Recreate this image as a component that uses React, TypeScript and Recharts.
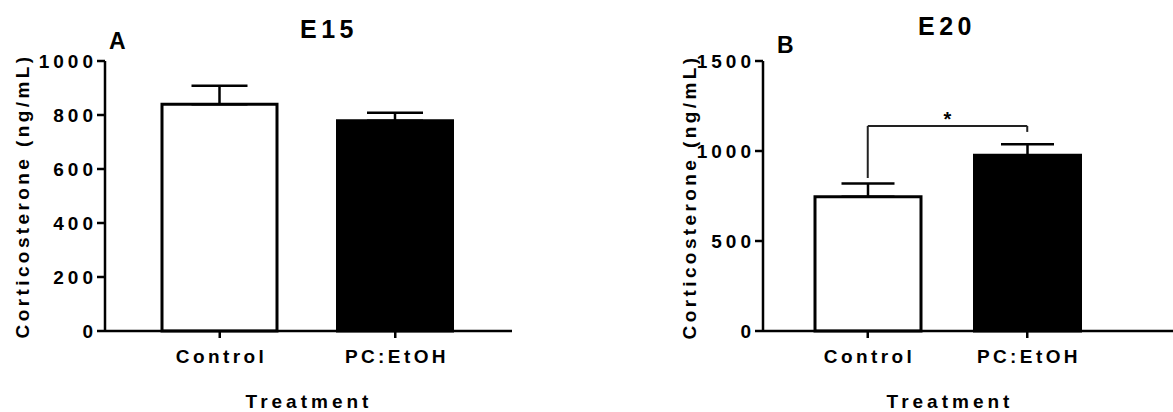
import React from 'react';
import { BarChart, Bar, XAxis, YAxis, ErrorBar, Cell, ReferenceLine } from 'recharts';

const categories = ['Control', 'PC:EtOH'];
const e15Means = [840, 779];
const e15Errors = [68, 29];
const e20Means = [746, 976];
const e20Errors = [73, 61];
const e15Ticks = [0, 200, 400, 600, 800, 1000];
const e20Ticks = [0, 500, 1000, 1500];
const barFills = ['#ffffff', '#000000'];
const bracketY = 1139;
const bracketLeftBottom = 850;
const bracketRightBottom = 1106;

const e15Data = categories.map((c, i) => ({ name: c, value: e15Means[i], err: [0, e15Errors[i]] }));
const e20Data = categories.map((c, i) => ({ name: c, value: e20Means[i], err: [0, e20Errors[i]] }));

const FONT = '"Liberation Sans", Arial, Helvetica, sans-serif';
const axisStyle = { stroke: '#000', strokeWidth: 2.5 };

const NUM_LS = 4;
const CAT_LS = 3.4;

function NumTick(props: any) {
  const { x, y, payload } = props;
  return (
    <text x={x} y={y} dy="0.36em" textAnchor="end" fontSize={19} fontWeight={700} fill="#000" fontFamily={FONT} style={{ letterSpacing: `${NUM_LS}px` }}>
      {payload.value}
    </text>
  );
}

function CatTick(props: any) {
  const { x, y, payload } = props;
  return (
    <text x={x + CAT_LS / 2} y={y} dy="0.71em" textAnchor="middle" fontSize={19} fontWeight={700} fill="#000" fontFamily={FONT} style={{ letterSpacing: `${CAT_LS}px` }}>
      {payload.value}
    </text>
  );
}

export default function App() {
  return (
    <div style={{ position: 'absolute', left: 0, top: 0, width: 1173, height: 412, background: '#fff' }}>
      <div style={{ position: 'absolute', left: 0, top: 0 }}>
        <BarChart width={600} height={412} data={e15Data} margin={{ top: 61, left: 45, right: 88, bottom: 0 }} barCategoryGap={0}>
          <XAxis dataKey="name" type="category" height={81} padding={{ left: 27, right: 29 }} axisLine={axisStyle} tickLine={axisStyle} tickSize={7} tickMargin={12} tick={<CatTick />} interval={0} />
          <YAxis type="number" width={60} domain={[0, 1000]} ticks={e15Ticks} interval={0} axisLine={axisStyle} tickLine={axisStyle} tickSize={8} tickMargin={0} tick={<NumTick />} />
          <Bar dataKey="value" barSize={115} isAnimationActive={false}>
            {e15Data.map((d, i) => (
              <Cell key={d.name} fill={barFills[i]} stroke="#000" strokeWidth={3} />
            ))}
            <ErrorBar dataKey="err" direction="y" width={28} stroke="#000" strokeWidth={2.5} isAnimationActive={false} />
          </Bar>
        </BarChart>
      </div>
      <div style={{ position: 'absolute', left: 600, top: 0 }}>
        <BarChart width={573} height={412} data={e20Data} margin={{ top: 61, left: 103, right: 0, bottom: 0 }} barCategoryGap={0}>
          <XAxis dataKey="name" type="category" height={81} padding={{ left: 25, right: 66 }} axisLine={axisStyle} tickLine={axisStyle} tickSize={7} tickMargin={12} tick={<CatTick />} interval={0} />
          <YAxis type="number" width={60} domain={[0, 1500]} ticks={e20Ticks} interval={0} axisLine={axisStyle} tickLine={axisStyle} tickSize={8} tickMargin={0} tick={<NumTick />} />
          <Bar dataKey="value" barSize={106} isAnimationActive={false}>
            {e20Data.map((d, i) => (
              <Cell key={d.name} fill={barFills[i]} stroke="#000" strokeWidth={3} />
            ))}
            <ErrorBar dataKey="err" direction="y" width={26.5} stroke="#000" strokeWidth={2.5} isAnimationActive={false} />
          </Bar>
          <ReferenceLine segment={[{ x: categories[0], y: bracketY }, { x: categories[1], y: bracketY }]} stroke="#222" strokeWidth={2}
            label={{ value: '*', position: 'top', offset: 0, fontSize: 20, fontWeight: 700, fill: '#000', fontFamily: FONT }} />
          <ReferenceLine segment={[{ x: categories[0], y: bracketLeftBottom }, { x: categories[0], y: bracketY }]} stroke="#222" strokeWidth={2} />
          <ReferenceLine segment={[{ x: categories[1], y: bracketRightBottom }, { x: categories[1], y: bracketY }]} stroke="#222" strokeWidth={2} />
        </BarChart>
      </div>
      <svg width={1173} height={412} style={{ position: 'absolute', left: 0, top: 0, pointerEvents: 'none' }} fontFamily={FONT} fontWeight={700}>
        <text x={329} y={38} fontSize={25} textAnchor="middle" style={{ letterSpacing: '4.5px' }}>E15</text>
        <text x={947} y={35} fontSize={25} textAnchor="middle" style={{ letterSpacing: '4.5px' }}>E20</text>
        <text x={109} y={49} fontSize={23}>A</text>
        <text x={777} y={53} fontSize={23}>B</text>
        <text transform="translate(29,196) rotate(-90)" fontSize={19} textAnchor="middle" style={{ letterSpacing: '3.4px' }}>Corticosterone (ng/mL)</text>
        <text transform="translate(696,197) rotate(-90)" fontSize={19} textAnchor="middle" style={{ letterSpacing: '3.4px' }}>Corticosterone (ng/mL)</text>
        <text x={309} y={408} fontSize={19} textAnchor="middle" style={{ letterSpacing: '4px' }}>Treatment</text>
        <text x={950} y={408} fontSize={19} textAnchor="middle" style={{ letterSpacing: '4px' }}>Treatment</text>
      </svg>
    </div>
  );
}
